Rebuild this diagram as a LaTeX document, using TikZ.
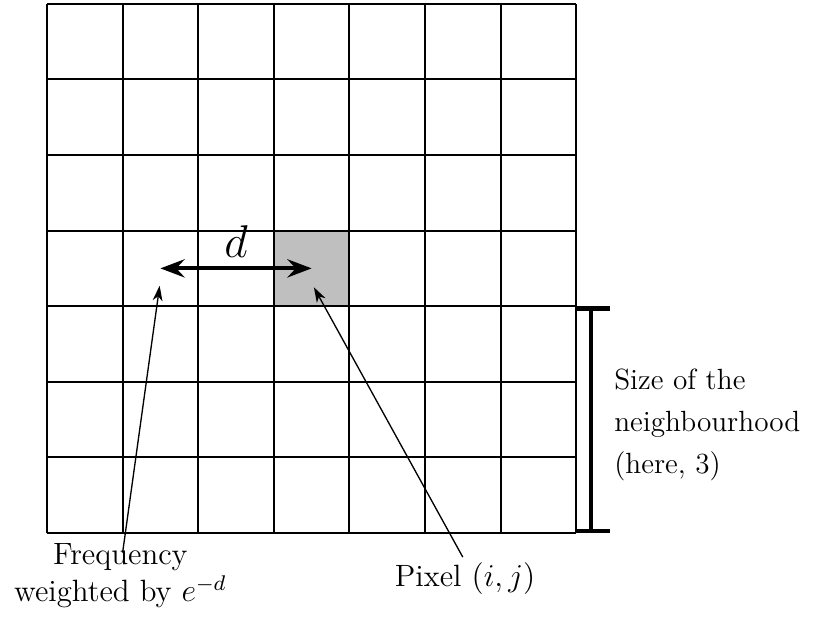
\documentclass[tikz,border=0pt]{standalone}
\usepackage{amsmath,amssymb}
\usepackage{tikz}
\usetikzlibrary{arrows.meta,positioning,calc}

\begin{document}
\begin{tikzpicture}[
    gridline/.style={line width=0.8pt},
    pixcell/.style={fill=black!25},
    bigarr/.style={{Stealth[length=3.2mm, width=2.4mm, inset=1.1mm]}-{Stealth[length=3.2mm, width=2.4mm, inset=1.1mm]}, line width=1.6pt},
    arr/.style={-{Stealth[length=2mm, width=1.3mm, inset=0.6mm]}, line width=0.5pt},
    bracket/.style={line width=1.6pt},
    lbl/.style={align=center, font=\fontsize{11.6}{13.9}\selectfont},
]
    \useasboundingbox (-0.622,-1.151) rectangle (10.225,7.05);

    % grid of pixels
    \fill[pixcell] (3,3) rectangle (4,4);
    \draw[gridline] (0,0) grid (7,7);

    % distance d
    \coordinate (dL) at (1.5, 3.5);
    \coordinate (dR) at (3.5, 3.5);
    \draw[bigarr] (dL) -- (dR);
    \node (d) at (2.5, 3.86) {\LARGE $d$};

    % labels
    \node[lbl] (freq) at (0.97, -0.57) {Frequency\\weighted by $e^{-d}$};
    \node[lbl] (pix) at (5.53, -0.6) {Pixel $(i,j)$};
    \node[lbl, align=left, anchor=west, font=\fontsize{11}{15.8}\selectfont] (size) at (7.38, 1.43) {Size of the\\neighbourhood\\(here, 3)};

    \coordinate (fq) at (1.0, -0.26);
    \coordinate (fqtip) at (1.49, 3.27);
    \coordinate (px) at (5.50, -0.32);
    \coordinate (pxtip) at (3.53, 3.25);
    \draw[arr] (fq) -- (fqtip);
    \draw[arr] (px) -- (pxtip);

    % neighbourhood bracket
    \coordinate (bT) at (7.2, 2.97);
    \coordinate (bB) at (7.2, 0.03);
    \draw[bracket] (bT) -- (bB);
    \draw[bracket] ($(bT)+(-0.2,0)$) -- ($(bT)+(0.25,0)$);
    \draw[bracket] ($(bB)+(-0.2,0)$) -- ($(bB)+(0.25,0)$);
\end{tikzpicture}
\end{document}
